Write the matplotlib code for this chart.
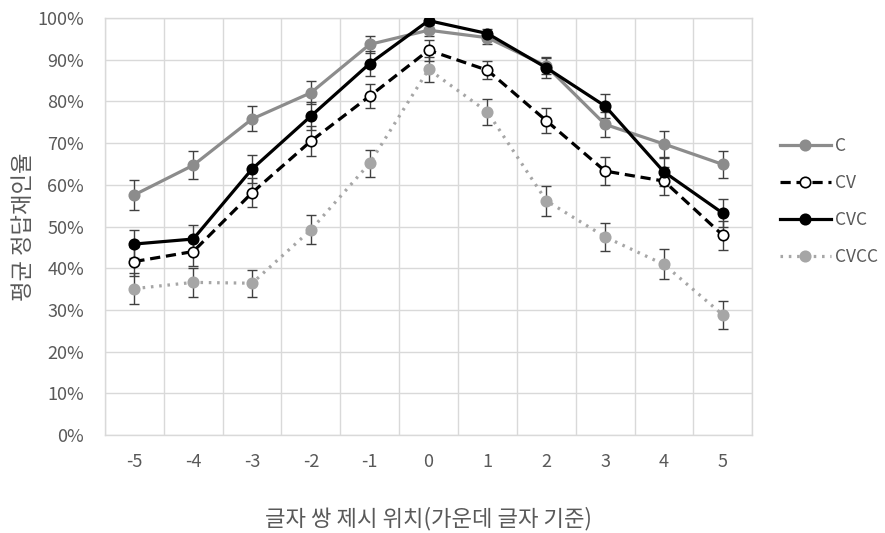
import numpy as np
import matplotlib
matplotlib.use('Agg')
import matplotlib.pyplot as plt
from matplotlib.ticker import MultipleLocator, PercentFormatter

plt.rcParams['font.family'] = ['Noto Sans CJK KR', 'DejaVu Sans']

positions = [-5, -4, -3, -2, -1, 0, 1, 2, 3, 4, 5]

c_vals = [57.6, 64.7, 75.8, 82.1, 93.7, 97.1, 95.3, 88.5, 74.5, 69.8, 64.9]
c_err = [3.6, 3.4, 3.0, 2.8, 2.0, 1.5, 1.5, 2.0, 3.0, 3.0, 3.2]

cv_vals = [41.6, 44.0, 58.1, 70.5, 81.3, 92.3, 87.5, 75.4, 63.3, 60.9, 47.9]
cv_err = [3.5, 3.5, 3.5, 3.5, 2.8, 2.5, 2.2, 3.0, 3.4, 3.4, 3.5]

cvc_vals = [45.8, 47.0, 63.8, 76.5, 89.1, 99.4, 96.3, 88.1, 78.9, 63.1, 53.2]
cvc_err = [3.3, 3.3, 3.3, 3.3, 3.0, 1.0, 1.2, 2.5, 2.8, 3.3, 3.4]

cvcc_vals = [35.1, 36.6, 36.4, 49.2, 65.2, 87.7, 77.5, 56.2, 47.5, 40.9, 28.8]
cvcc_err = [3.8, 3.5, 3.2, 3.5, 3.2, 3.0, 3.2, 3.6, 3.4, 3.6, 3.3]

fig = plt.figure(figsize=(8.85, 5.33), dpi=100)
ax = fig.add_axes([0.1186, 0.184, 0.7314, 0.782])

text_col = '#595959'
err_col = '#404040'

series = [
    ('C', c_vals, c_err, dict(color='#8c8c8c', linestyle='-', marker='o',
                              markerfacecolor='#8c8c8c', markeredgecolor='#8c8c8c')),
    ('CV', cv_vals, cv_err, dict(color='black', linestyle=(0, (3.2, 1.8)), marker='o',
                                 markerfacecolor='white', markeredgecolor='black')),
    ('CVC', cvc_vals, cvc_err, dict(color='black', linestyle='-', marker='o',
                                    markerfacecolor='black', markeredgecolor='black')),
    ('CVCC', cvcc_vals, cvcc_err, dict(color='#a6a6a6', linestyle=(0, (0.8, 1.8)), marker='o',
                                       markerfacecolor='#a6a6a6', markeredgecolor='#a6a6a6')),
]

for name, vals, err, style in series:
    ax.errorbar(positions, vals, yerr=err, fmt='none', ecolor=err_col,
                elinewidth=1.0, capsize=3.5, capthick=1.0, zorder=2)
    ax.plot(positions, vals, label=name, linewidth=2.3, markersize=7.5,
            markeredgewidth=1.2, zorder=3, **style)

ax.set_xlim(-5.5, 5.5)
ax.set_ylim(0, 100)
ax.set_xticks(positions)
ax.set_xticklabels([str(p) for p in positions])
ax.xaxis.set_minor_locator(MultipleLocator(1, offset=0.5))
ax.yaxis.set_major_locator(MultipleLocator(10))
ax.yaxis.set_major_formatter(PercentFormatter(decimals=0))

ax.grid(True, which='major', axis='y', color='#d9d9d9', linewidth=1)
ax.grid(True, which='minor', axis='x', color='#d9d9d9', linewidth=1)
ax.set_axisbelow(True)
ax.tick_params(which='both', length=0, colors=text_col, labelsize=13)
ax.tick_params(axis='x', pad=13)
ax.tick_params(axis='y', pad=15)
for s in ax.spines.values():
    s.set_color('#d9d9d9')
    s.set_linewidth(1)

ax.set_xlabel('글자 쌍 제시 위치(가운데 글자 기준)', fontsize=16, color=text_col, labelpad=26)
ax.set_ylabel('평균 정답재인율', fontsize=16, color=text_col, labelpad=2)

leg = ax.legend(loc='center left', bbox_to_anchor=(1.019, 0.56), frameon=False,
                fontsize=12.5, labelcolor=text_col, handlelength=2.9, labelspacing=1.1,
                handletextpad=0.25)

fig.savefig('out.png', dpi=100)
